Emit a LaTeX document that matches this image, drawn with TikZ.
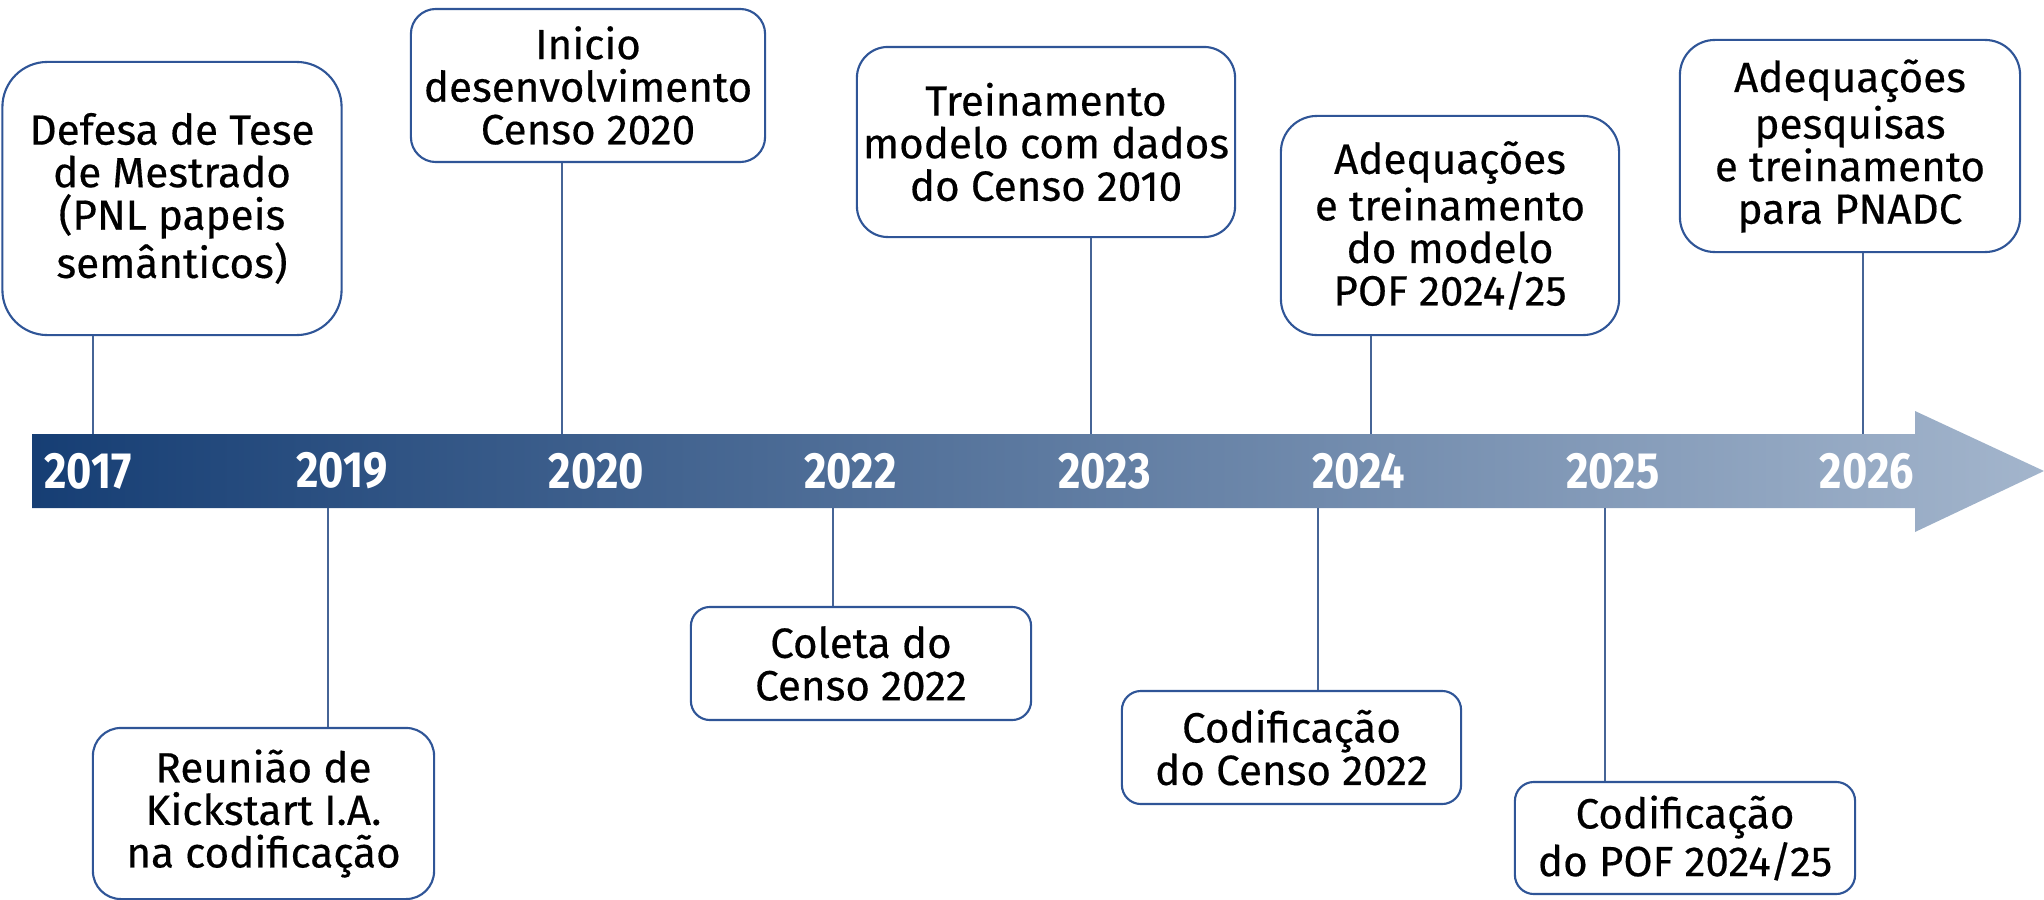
\documentclass[tikz,border=0pt]{standalone}
\usepackage{fontspec}
\setmainfont{Fira Sans}[FakeBold=0.4]
\newfontfamily\yearfont{Fira Sans}[FakeStretch=0.85]
\definecolor{barstart}{RGB}{22,62,116}
\definecolor{barend}{RGB}{163,181,204}
\definecolor{boxline}{RGB}{47,85,151}
\definecolor{stemline}{RGB}{70,100,150}

\begin{document}
\begin{tikzpicture}[x=0.01cm,y=-0.01cm,node distance=2.54cm,
  box/.style={draw=boxline,line width=0.6pt,fill=white,align=center,inner sep=0pt,
    font=\fontsize{12}{12.1}\selectfont},
  year/.style={text=white,font=\yearfont\bfseries\fontsize{14.5}{14.5}\selectfont},
  stem/.style={draw=stemline,line width=0.45pt}]
  \useasboundingbox (0,0) rectangle (2044,900);
  \shade[left color=barstart,right color=barend]
    (32,434) -- (1915,434) -- (1915,411) -- (2044,471) -- (1915,532) -- (1915,508) -- (32,508) -- cycle;
  \node[year] (y17) at (88,471) {2017};
  \node[year] (y19) [right of=y17] {2019};
  \node[year] (y20) [right of=y19] {2020};
  \node[year] (y22) [right of=y20] {2022};
  \node[year] (y23) [right of=y22] {2023};
  \node[year] (y24) [right of=y23] {2024};
  \node[year] (y25) [right of=y24] {2025};
  \node[year] (y26) [right of=y25] {2026};
  \coordinate (s17) at (93,434);
  \coordinate (s20) at (562,434);
  \coordinate (s23) at (1091,434);
  \coordinate (s24a) at (1371,434);
  \coordinate (s26) at (1863,434);
  \coordinate (s19) at (328,508);
  \coordinate (s22) at (833,508);
  \coordinate (s24b) at (1318,508);
  \coordinate (s25) at (1605,508);
  \node[box,minimum width=3.39cm,minimum height=2.73cm,rounded corners=0.45cm] (defesa) at (172,198.5)
    {Defesa de Tese\\de Mestrado\\(PNL papeis\\semânticos)};
  \node[box,minimum width=3.54cm,minimum height=1.53cm,rounded corners=0.25cm] (inicio) at (588,85.5)
    {Inicio\\desenvolvimento\\Censo 2020};
  \node[box,minimum width=3.78cm,minimum height=1.9cm,rounded corners=0.31cm] (treino) at (1046,142)
    {Treinamento\\modelo com dados\\do Censo 2010};
  \node[box,minimum width=3.38cm,minimum height=2.19cm,rounded corners=0.36cm] (adeqpof) at (1450,225.5)
    {Adequações\\e treinamento\\do modelo\\POF 2024/25};
  \node[box,minimum width=3.4cm,minimum height=2.12cm,rounded corners=0.35cm] (adeqpnadc) at (1850,146)
    {Adequações\\pesquisas\\e treinamento\\para PNADC};
  \node[box,minimum width=3.41cm,minimum height=1.71cm,rounded corners=0.28cm] (kickstart) at (263.5,813.5)
    {Reunião de\\Kickstart I.A.\\na codificação};
  \node[box,minimum width=3.4cm,minimum height=1.13cm,rounded corners=0.19cm] (coleta) at (861,663.5)
    {Coleta do\\Censo 2022};
  \node[box,minimum width=3.39cm,minimum height=1.13cm,rounded corners=0.19cm] (codcenso) at (1291.5,747.5)
    {Codificação\\do Censo 2022};
  \node[box,minimum width=3.4cm,minimum height=1.12cm,rounded corners=0.19cm] (codpof) at (1685,838)
    {Codificação\\do POF 2024/25};
  \draw[stem] (defesa.south -| s17) -- (s17);
  \draw[stem] (inicio.south -| s20) -- (s20);
  \draw[stem] (treino.south -| s23) -- (s23);
  \draw[stem] (adeqpof.south -| s24a) -- (s24a);
  \draw[stem] (adeqpnadc.south -| s26) -- (s26);
  \draw[stem] (s19) -- (kickstart.north -| s19);
  \draw[stem] (s22) -- (coleta.north -| s22);
  \draw[stem] (s24b) -- (codcenso.north -| s24b);
  \draw[stem] (s25) -- (codpof.north -| s25);
\end{tikzpicture}
\end{document}
